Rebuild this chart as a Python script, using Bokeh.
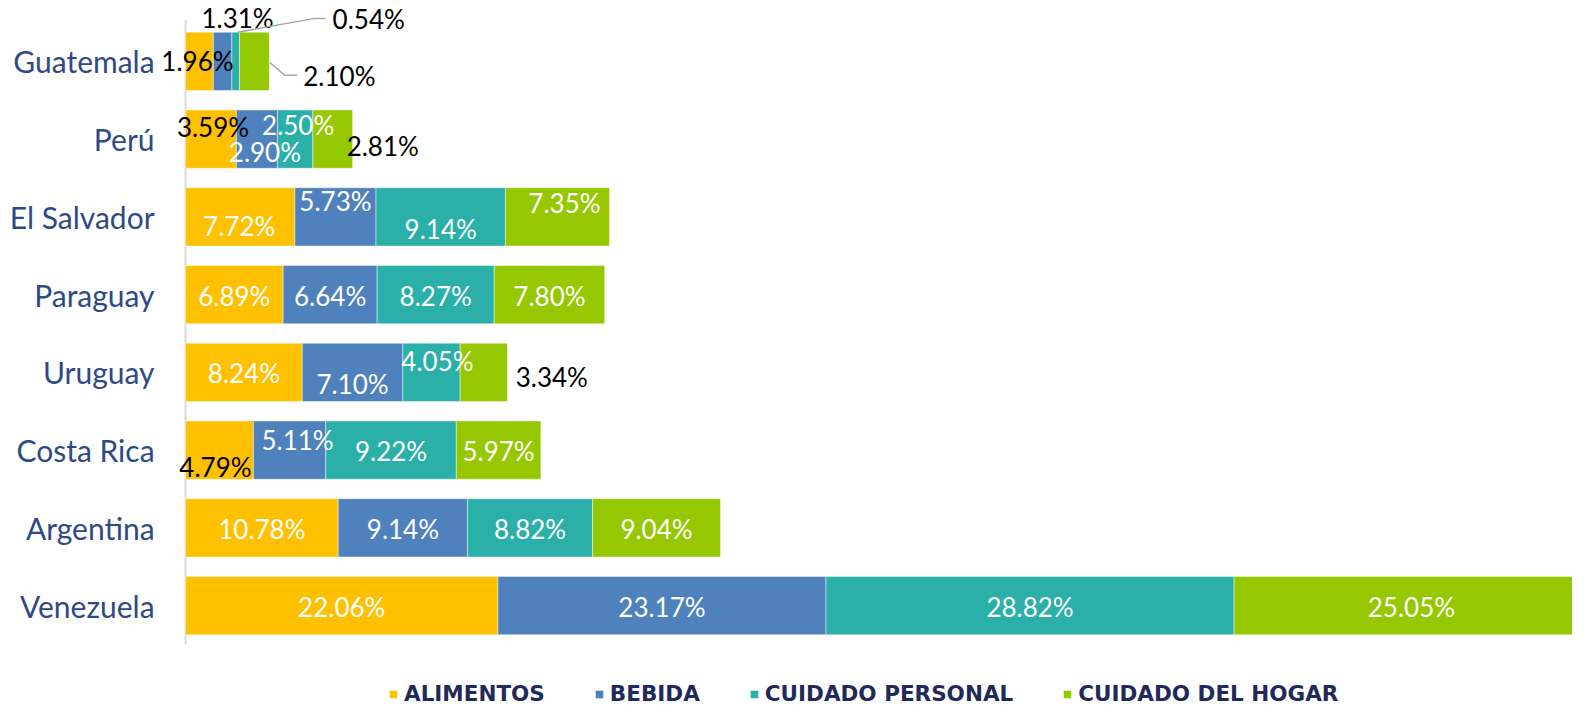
from bokeh.plotting import figure
from bokeh.models import Range1d, FixedTicker, Legend, LegendItem, ColumnDataSource
from bokeh.core.properties import value
from bokeh.embed import file_html
from bokeh.resources import INLINE

# ---------------- data ----------------
countries = ["Guatemala", "Perú", "El Salvador", "Paraguay", "Uruguay",
             "Costa Rica", "Argentina", "Venezuela"]
series = ["ALIMENTOS", "BEBIDA", "CUIDADO PERSONAL", "CUIDADO DEL HOGAR"]
alimentos = [1.96, 3.59, 7.72, 6.89, 8.24, 4.79, 10.78, 22.06]
bebida = [1.31, 2.90, 5.73, 6.64, 7.10, 5.11, 9.14, 23.17]
cuidado_personal = [0.54, 2.50, 9.14, 8.27, 4.05, 9.22, 8.82, 28.82]
cuidado_hogar = [2.10, 2.81, 7.35, 7.80, 3.34, 5.97, 9.04, 25.05]

# ---------------- style ----------------
colors = ["#FFC000", "#4F81BD", "#2AB0A9", "#95C800"]
keys = ["al", "be", "cp", "ch"]
values_by_series = [alimentos, bebida, cuidado_personal, cuidado_hogar]

# label nudges in screen pixels (dx, dy, colour); default centred white
nudges = {
    ("Guatemala", 0): (-2, 0, "black"),
    ("Guatemala", 1): (15, -43, "black"),
    ("Guatemala", 2): (133, -42, "black"),
    ("Guatemala", 3): (85, 15, "black"),
    ("Perú", 0): (2, -12, "black"),
    ("Perú", 1): (8, 13, "white"),
    ("Perú", 2): (3, -14, "white"),
    ("Perú", 3): (50, 7, "black"),
    ("El Salvador", 0): (-1, 9, "white"),
    ("El Salvador", 1): (0, -16, "white"),
    ("El Salvador", 2): (0, 12, "white"),
    ("El Salvador", 3): (7, -14, "white"),
    ("Uruguay", 1): (0, 12, "white"),
    ("Uruguay", 2): (6, -11, "white"),
    ("Uruguay", 3): (68, 5, "black"),
    ("Costa Rica", 0): (-4, 17, "black"),
    ("Costa Rica", 1): (8, -10, "white"),
}

n = len(countries)
ypos = [n - i - 0.5 for i in range(n)]

src = ColumnDataSource(dict(y=ypos, **{k: v for k, v in zip(keys, values_by_series)}))

p = figure(width=1572, height=705, output_backend="svg", toolbar_location=None,
           x_range=Range1d(-13.07, 97.95), y_range=Range1d(-0.785, 8.283),
           x_axis_location=None, min_border_left=0, min_border_right=0,
           min_border_top=0, min_border_bottom=0, outline_line_color=None)
p.grid.visible = False
p.background_fill_color = "white"

# axis line
p.segment(x0=[0], y0=[0], x1=[0], y1=[n + 0.03], line_color="#D9D9D9", line_width=2)

rs = p.hbar_stack(keys, y="y", height=0.75, source=src, fill_color=colors,
                  line_color="white", line_alpha=0.45, line_width=1)

# data labels
lx, ly, lt, lc, lxo, lyo = [], [], [], [], [], []
for i, c in enumerate(countries):
    left = 0.0
    for j, vals in enumerate(values_by_series):
        v = vals[i]
        dx, dy, col = nudges.get((c, j), (0, 1, "white"))
        lx.append(left + v / 2)
        ly.append(ypos[i])
        lt.append(f"{v:.2f}%")
        lc.append(col)
        lxo.append(dx)
        lyo.append(dy)
        left += v
lsrc = ColumnDataSource(dict(x=lx, y=ly, t=lt, c=lc, xo=lxo, yo=lyo))
p.text(x="x", y="y", text="t", source=lsrc, text_color="c", x_offset="xo", y_offset="yo",
       text_font=value("Lato"), text_font_size="26px", text_align="center",
       text_baseline="middle")

# leader lines for Guatemala's small segments (offsets from the segment in data units)
g = 0
gl = [sum(v[g] for v in values_by_series[:j]) for j in range(4)]
p.line(x=[gl[2] + 0.40, gl[2] + 5.77, gl[2] + 6.62],
       y=[ypos[g] + 0.375, ypos[g] + 0.55, ypos[g] + 0.55],
       line_color="#A6A6A6", line_width=1.5)
p.line(x=[gl[3] + cuidado_hogar[g] + 0.05, gl[3] + cuidado_hogar[g] + 1.11, gl[3] + cuidado_hogar[g] + 1.96],
       y=[ypos[g] - 0.015, ypos[g] - 0.18, ypos[g] - 0.18],
       line_color="#A6A6A6", line_width=1.5)

# y axis, fixed at x = 0 inside the frame
ax = p.yaxis[0]
ax.fixed_location = 0
ax.ticker = FixedTicker(ticks=ypos)
ax.major_label_overrides = {y: c for y, c in zip(ypos, countries)}
ax.axis_line_color = None
ax.major_tick_line_color = None
ax.minor_tick_line_color = None
ax.major_label_standoff = 25
ax.major_label_text_font = "Lato"
ax.major_label_text_font_size = "30px"
ax.major_label_text_color = "#2E4A86"

legend = Legend(items=[LegendItem(label=s, renderers=[r]) for s, r in zip(series, rs)],
                orientation="horizontal", location=(388, -1),
                glyph_width=10, glyph_height=10, label_standoff=6, spacing=49,
                padding=0, margin=0, border_line_alpha=0, background_fill_alpha=0,
                label_text_font="DejaVu Sans", label_text_font_style="bold",
                label_text_font_size="21.5px", label_text_color="#1F2A5A", label_height=20)
p.add_layout(legend, "center")

open("out.html", "w").write(file_html(p, INLINE))
